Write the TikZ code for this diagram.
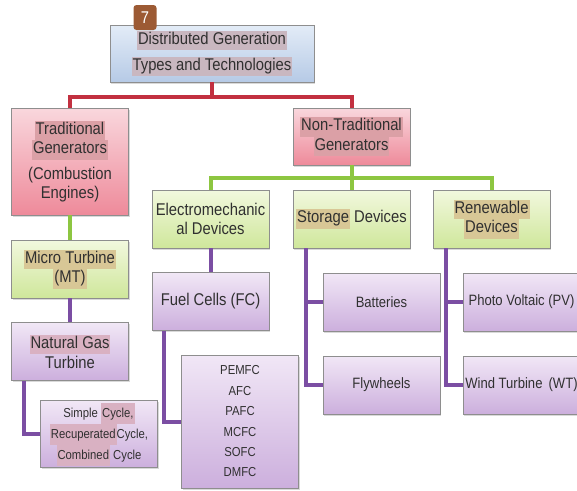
\documentclass[tikz,border=0pt]{standalone}
\usepackage{fontspec}
\setmainfont{Liberation Sans}[FakeStretch=0.87]
\usepackage{xcolor}
\usepackage{tikz}
\usetikzlibrary{shadows,positioning,calc}
\definecolor{dgtext}{HTML}{303030}
\definecolor{dgframe}{HTML}{8E8E8E}
\definecolor{dgbluetop}{HTML}{E3ECF7}
\definecolor{dgbluebot}{HTML}{B6CAE6}
\definecolor{dgpinktop}{HTML}{F9D7DD}
\definecolor{dgpinkbot}{HTML}{EE8A9A}
\definecolor{dggreentop}{HTML}{F2F8DE}
\definecolor{dggreenbot}{HTML}{CFE79B}
\definecolor{dgpurpletop}{HTML}{F1E7F6}
\definecolor{dgpurplebot}{HTML}{CCAFDD}
\definecolor{dgred}{HTML}{C23040}
\definecolor{dggreen}{HTML}{8DC641}
\definecolor{dgpurple}{HTML}{7B4EA3}
\definecolor{dgbadge}{HTML}{9C5A34}
\definecolor{hlblue}{HTML}{C9B7C0}
\definecolor{hlpink}{HTML}{DBA0A6}
\definecolor{hlgreen}{HTML}{D8C796}
\definecolor{hlpurple}{HTML}{D9B1C2}
\newcommand{\hl}[2]{{\setlength{\fboxsep}{0pt}\colorbox{#1}{\strut\hspace{1pt}#2\hspace{1pt}}}}

\begin{document}
\begin{tikzpicture}[
  x=1pt, y=-1pt,
  font=\fontsize{17}{19.5}\selectfont,
  text=dgtext,
  box/.style={draw=dgframe, line width=0.6pt, align=center, inner sep=2pt,
              minimum width=117pt, minimum height=58pt,
              drop shadow={shadow xshift=1pt, shadow yshift=-1.5pt, opacity=0.3}},
  head/.style={box, top color=dgbluetop, bottom color=dgbluebot,
               minimum width=204pt, minimum height=57pt},
  gen/.style={box, top color=dgpinktop, bottom color=dgpinkbot},
  tech/.style={box, top color=dggreentop, bottom color=dggreenbot},
  item/.style={box, top color=dgpurpletop, bottom color=dgpurplebot},
  small/.style={font=\fontsize{15}{19}\selectfont},
  tiny/.style={font=\fontsize{13}{20.4}\selectfont},
  badge/.style={fill=dgbadge, text=white, rounded corners=3pt, minimum width=23pt,
                minimum height=25pt, inner sep=0pt},
  redline/.style={draw=dgred, line width=4pt},
  greenline/.style={draw=dggreen, line width=4pt},
  purpleline/.style={draw=dgpurple, line width=4pt}
]
\clip (0,0) rectangle (577,490);

\node[head] (top) at (212,53.5)
  {\hl{hlblue}{Distributed Generation}\\[6.5pt] \hl{hlblue}{Types and Technologies}};
\node[badge] (num) at (145,17.5) {7};

\node[gen, minimum height=107pt] (trad) at (70,161.5)
  {\hl{hlpink}{Traditional}\\ \hl{hlpink}{Generators}\\[6pt] (Combustion\\ Engines)};
\node[gen, minimum height=57pt] (nontrad) at (351.5,136.5)
  {\hl{hlpink}{Non-Traditional}\\ \hl{hlpink}{Generators}};

\node[tech] (mt) at (70,269) {\hl{hlgreen}{Micro Turbine}\\ \hl{hlgreen}{(MT)}};
\node[item] (ngt) at (70,351.5) {\hl{hlpurple}{Natural Gas}\\ Turbine};
\node[item, font=\fontsize{13}{21}\selectfont] (cycles) at (99,434)
  {Simple \hl{hlpurple}{Cycle,}\\ \hl{hlpurple}{Recuperated}Cycle,\\ \hl{hlpurple}{Combined} Cycle};

\node[tech] (emech) at (210.5,219) {Electromechanic\\ al Devices};
\node[tech] (storage) at (351.5,219) {\hl{hlgreen}{Storage} Devices};
\node[tech] (renew) at (491.5,219) {\hl{hlgreen}{Renewable}\\ \hl{hlgreen}{Devices}};

\node[item] (fc) at (210.5,301.5) {Fuel Cells (FC)};
\node[item, tiny, minimum height=133pt] (fctypes) at (240,421.5)
  {PEMFC\\ AFC\\ PAFC\\ MCFC\\ SOFC\\ DMFC};

\node[item, small] (batt) at (381.5,302) {Batteries};
\node[item, small] (fly) at (381.5,385) {Flywheels};
\node[item, small] (pv) at (521.5,302) {Photo Voltaic (PV)};
\node[item, small] (wt) at (521.5,385) {Wind Turbine\ \,(WT)};

\draw[redline] (top.south) -- ++(0,15) -| (trad.north);
\draw[redline] (top.south) -- ++(0,15) -| (nontrad.north);

\draw[greenline] (trad.south) -- (mt.north);
\draw[greenline] (nontrad.south) -- ++(0,13) -| (emech.north);
\draw[greenline] (nontrad.south) -- ++(0,13) -| (renew.north);
\draw[greenline] (nontrad.south) -- (storage.north);

\draw[purpleline] (mt.south) -- (ngt.north);
\draw[purpleline] (emech.south) -- (fc.north);
\draw[purpleline] ([xshift=-46pt]ngt.south) |- (cycles.west);
\draw[purpleline] ([xshift=-46.5pt]fc.south) |- (fctypes.west);
\draw[purpleline] ([xshift=-45.5pt]storage.south) |- (batt.west);
\draw[purpleline] ([xshift=-45.5pt]storage.south) |- (fly.west);
\draw[purpleline] ([xshift=-45.5pt]renew.south) |- (pv.west);
\draw[purpleline] ([xshift=-45.5pt]renew.south) |- (wt.west);
\end{tikzpicture}
\end{document}
